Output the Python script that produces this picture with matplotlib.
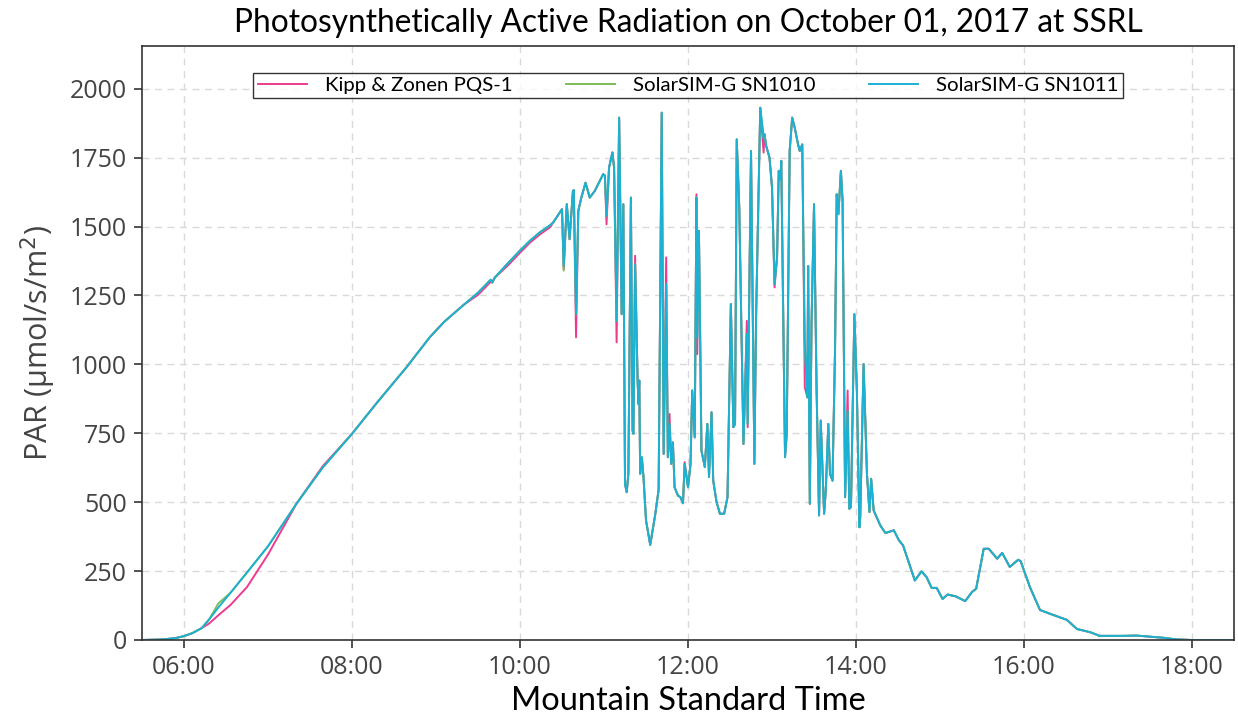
import numpy as np
import matplotlib
matplotlib.use("Agg")
import matplotlib.pyplot as plt
from matplotlib.ticker import FuncFormatter, MultipleLocator

# ---- data (decimal hours, Mountain Standard Time) ----
hours = [5.50, 5.75, 5.90, 6.00, 6.10, 6.21, 6.30, 6.41, 6.55, 6.75, 7.00, 7.34, 7.65, 8.00,
         8.30, 8.65, 8.93, 9.10, 9.33, 9.50, 9.65, 9.67, 9.70, 9.85, 10.00, 10.12, 10.24, 10.36,
         10.40, 10.50, 10.52, 10.557, 10.59, 10.63, 10.64, 10.667, 10.694, 10.73, 10.78, 10.83,
         10.89, 10.99, 11.01, 11.03, 11.06, 11.10, 11.12, 11.15, 11.18, 11.21, 11.23, 11.25,
         11.27, 11.29, 11.32, 11.34, 11.35, 11.37, 11.40, 11.41, 11.42, 11.43, 11.45, 11.47,
         11.50, 11.55, 11.61, 11.65, 11.687, 11.71, 11.74, 11.76, 11.78, 11.80, 11.82, 11.84,
         11.88, 11.91, 11.94, 11.96, 12.00, 12.03, 12.05, 12.08, 12.10, 12.11, 12.13, 12.16,
         12.20, 12.23, 12.25, 12.28, 12.30, 12.34, 12.38, 12.43, 12.47, 12.51, 12.54, 12.56,
         12.58, 12.61, 12.66, 12.70, 12.71, 12.75, 12.79, 12.81, 12.86, 12.90, 12.91, 12.93,
         12.97, 13.00, 13.03, 13.06, 13.08, 13.10, 13.11, 13.155, 13.175, 13.21, 13.24, 13.27,
         13.31, 13.33, 13.36, 13.37, 13.39, 13.42, 13.43, 13.45, 13.47, 13.50, 13.53, 13.56,
         13.58, 13.62, 13.64, 13.67, 13.69, 13.72, 13.75, 13.77, 13.79, 13.82, 13.84, 13.87,
         13.90, 13.92, 13.94, 13.98, 14.01, 14.04, 14.05, 14.09, 14.13, 14.16, 14.18, 14.21,
         14.29, 14.35, 14.45, 14.51, 14.56, 14.70, 14.78, 14.84, 14.90, 14.96, 15.03, 15.09,
         15.19, 15.30, 15.38, 15.43, 15.52, 15.58, 15.68, 15.74, 15.83, 15.93, 15.96, 16.07,
         16.19, 16.31, 16.51, 16.63, 16.79, 16.90, 17.18, 17.34, 17.66, 17.82, 18.00, 18.50]

sn1011 = [0, 2, 7, 14, 25, 43, 75, 118, 170, 245, 340, 495, 625, 748,
          862, 990, 1100, 1155, 1216, 1260, 1307, 1297, 1315, 1365, 1413, 1449, 1480, 1505,
          1517, 1563, 1357, 1581, 1454, 1629, 1632, 1182, 1557, 1605, 1659, 1605,
          1629, 1690, 1685, 1539, 1714, 1769, 1714, 1158, 1895, 1182, 1581, 566,
          536, 603, 1605, 760, 748, 1363, 941, 856, 941, 603, 663, 591,
          434, 345, 456, 545, 1913, 675, 1291, 663, 784, 639, 717, 554,
          524, 518, 496, 639, 554, 639, 905, 735, 1605, 1098, 1484, 687,
          627, 784, 591, 826, 578, 500, 458, 458, 518, 1219, 772, 784,
          1816, 1569, 711, 1110, 784, 1774, 639, 1170, 1931, 1822, 1835, 1793,
          1750, 1641, 1291, 1388, 1702, 1671, 1738, 663, 748, 1774, 1895, 1859,
          1798, 1774, 1798, 1533, 1074, 880, 1357, 494, 1146, 1581, 917, 452,
          796, 458, 542, 784, 603, 578, 1049, 1617, 1545, 1702, 1593, 518,
          832, 476, 482, 1182, 905, 409, 446, 1001, 603, 464, 585, 470,
          415, 388, 398, 362, 343, 216, 249, 228, 189, 189, 149, 165,
          158, 141, 174, 186, 331, 331, 295, 316, 265, 291, 286, 192,
          109, 95, 73, 40, 28, 15, 15, 16, 8, 2, 0, 0]

# readings where Kipp & Zonen PQS-1 differs from SN1011
kipp_diff_hours = [6.30, 6.41, 6.55, 6.75, 7.00, 7.65, 9.50, 9.65, 9.85, 10.00, 10.12, 10.24,
                   10.36, 10.52, 10.667, 11.03, 11.15, 11.37, 11.74, 11.78, 11.96, 12.10,
                   12.11, 12.70, 12.71, 12.90, 13.03, 13.39, 13.90]
kipp_diff_values = [60, 90, 126, 192, 310, 630, 1252, 1299, 1357, 1405, 1442, 1472,
                    1498, 1345, 1098, 1508, 1080, 1394, 1388, 820, 645, 1617,
                    1037, 1158, 772, 1768, 1279, 917, 905]

# readings where SolarSIM-G SN1010 differs from SN1011
sn1010_diff_hours = [6.41, 10.52]
sn1010_diff_values = [133, 1340]

labels = ["Kipp & Zonen PQS-1", "SolarSIM-G SN1010", "SolarSIM-G SN1011"]
colors = ["#ec3b8f", "#7cbb58", "#1cb0d2"]


def with_diffs(base, dh, dv):
    out = list(base)
    for h, v in zip(dh, dv):
        idx = int(np.argmin(np.abs(np.array(hours) - h)))
        out[idx] = v
    return out


kipp = with_diffs(sn1011, kipp_diff_hours, kipp_diff_values)
sn1010 = with_diffs(sn1011, sn1010_diff_hours, sn1010_diff_values)

# ---- plot ----
fig = plt.figure(figsize=(12.38, 7.15), dpi=100)
ax = fig.add_axes([0.1147, 0.1049, 0.8821, 0.8308])

for y, lab, c in zip([kipp, sn1010, sn1011], labels, colors):
    ax.plot(hours, y, color=c, lw=1.4, label=lab)

ax.set_xlim(5.5, 18.5)
ax.set_ylim(0, 2155)
ax.xaxis.set_major_locator(MultipleLocator(2))
ax.yaxis.set_major_locator(MultipleLocator(250))
ax.xaxis.set_major_formatter(FuncFormatter(lambda v, p: f"{int(v):02d}:00"))
ax.grid(True, color="#d9d9d9", linestyle=(0, (5, 4)), linewidth=1.0)
ax.set_axisbelow(True)

for s in ax.spines.values():
    s.set_color("#333333")
    s.set_linewidth(1.2)
ax.tick_params(axis="both", direction="out", length=6, width=1.2, color="#333333",
               labelcolor="#444444", labelsize=18, pad=5)
for lab in ax.get_xticklabels() + ax.get_yticklabels():
    lab.set_family("Open Sans")

ax.set_title("Photosynthetically Active Radiation on October 01, 2017 at SSRL",
             family="Lato", fontsize=22.8, pad=10, color="black")
ax.set_xlabel("Mountain Standard Time", family="Lato", fontsize=23.4, labelpad=4)
ax.set_ylabel("PAR (μmol/s/m$^2$)", family="Open Sans", fontsize=22, color="#444444",
              labelpad=8)

leg = ax.legend(loc="upper center", ncol=3, frameon=True, fancybox=False,
                edgecolor="black", prop={"family": "Lato", "size": 14.7},
                bbox_to_anchor=(0.5, 0.955), borderaxespad=0.0,
                handlelength=2.4, columnspacing=2.6,
                borderpad=0.2, handletextpad=0.9)
leg.get_frame().set_linewidth(1.0)

fig.savefig("out.png", dpi=100)
